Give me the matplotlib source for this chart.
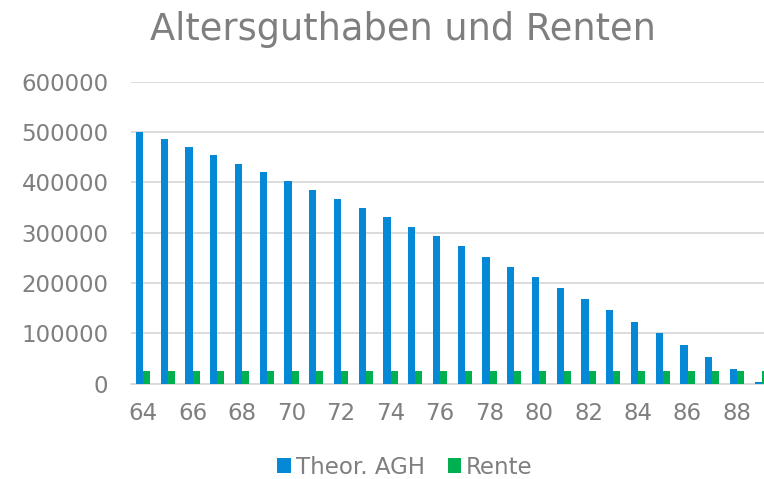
import matplotlib
matplotlib.use("Agg")
import matplotlib.pyplot as plt
import numpy as np

# ages on the x axis
ages = list(range(64, 90))
# theoretical retirement assets (Theor. AGH)
agh = [500000, 485600, 469700, 453800, 437100, 420000, 402700, 385500,
       367600, 349100, 330600, 311900, 292900, 273000, 252300, 232400,
       211400, 189500, 167600, 145800, 122600, 100100, 76300, 52500,
       28600, 2800]
# yearly pension
rente = [25000] * len(ages)

BLUE = "#0588D5"
GREEN = "#00B050"
GREY = "#7F7F7F"

fig = plt.figure(figsize=(7.64, 4.79), dpi=100)
ax = fig.add_axes([0.171, 0.199, 0.8423, 0.6305])

x = np.array(ages)
w = 0.29
ax.bar(x - w / 2, agh, width=w, color=BLUE, label="Theor. AGH", zorder=3)
ax.bar(x + w / 2, rente, width=w, color=GREEN, label="Rente", zorder=3)

ax.set_xlim(63.5, 89.5)
ax.set_ylim(0, 600000)
ax.set_yticks(range(0, 600001, 100000))
ax.set_xticks(range(64, 90, 2))
ax.tick_params(axis="both", length=0, labelsize=16.5, colors=GREY)
ax.tick_params(axis="x", pad=13)
ax.tick_params(axis="y", pad=16)
ax.grid(axis="y", color="#D9D9D9", linewidth=1.3, zorder=0)
for side in ("top", "right", "left"):
    ax.spines[side].set_visible(False)
ax.spines["bottom"].set_color("#D9D9D9")
ax.spines["bottom"].set_linewidth(1.3)

fig.text(403 / 764, 1 - 29 / 479, "Altersguthaben und Renten",
         ha="center", va="center", fontsize=26.5, color=GREY)

fig.legend(loc="center", bbox_to_anchor=(405 / 764, 12 / 479), ncol=2,
           frameon=False, fontsize=16.5, labelcolor=GREY,
           handlelength=0.6, handleheight=0.6, handletextpad=0.2,
           columnspacing=1.0)

fig.savefig("out.png", dpi=100)
